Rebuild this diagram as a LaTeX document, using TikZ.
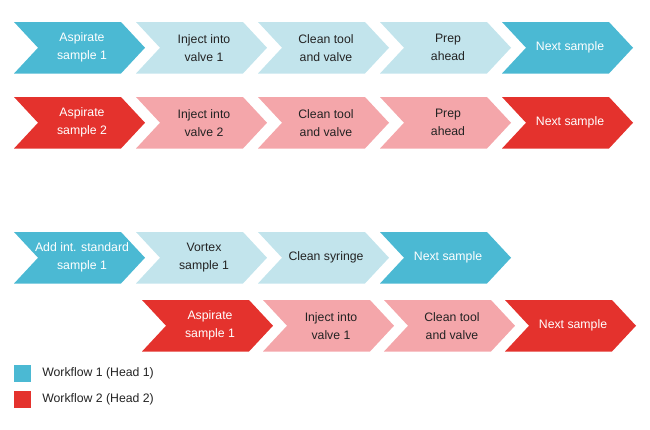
\documentclass[tikz,border=0pt]{standalone}
\usepackage{fontspec}
\setmainfont{Liberation Sans}
\usepackage{tikz}
\usetikzlibrary{positioning}
\definecolor{headblue}{HTML}{4BB9D3}
\definecolor{paleblue}{HTML}{C2E4EC}
\definecolor{headred}{HTML}{E4322D}
\definecolor{palered}{HTML}{F4A6AA}
\definecolor{txtgray}{HTML}{232323}
% chevron: name, left x, top y, fill, text colour, text
\newcommand{\chev}[6]{%
  \fill[#4] (#2,#3) -- ++(107,0) -- ++(24,25.75) -- ++(-24,25.75) -- ++(-107,0) -- ++(24,-25.75) -- cycle;
  \node[steptext,text=#5] (#1) at ({#2+68},{#3+25.75}) {#6};
}

\begin{document}
\begin{tikzpicture}[x=0.75pt,y=-0.75pt,
    steptext/.style={align=center,inner sep=0pt,font=\fontsize{9.2}{13.5}\selectfont},
    keybox/.style={minimum size=12.75pt,inner sep=0pt},
    keytext/.style={right,inner sep=0pt,font=\fontsize{9.2}{11}\selectfont,text=txtgray}]
  \useasboundingbox (0,0) rectangle (650,429);
  % workflow 1, row 1
  \chev{a1}{14}{22}{headblue}{white}{Aspirate\\sample 1}
  \chev{a2}{136}{22}{paleblue}{txtgray}{Inject into\\valve 1}
  \chev{a3}{258}{22}{paleblue}{txtgray}{Clean tool\\and valve}
  \chev{a4}{380}{22}{paleblue}{txtgray}{Prep\\ahead}
  \chev{a5}{502}{22}{headblue}{white}{Next sample}
  % workflow 2, row 1
  \chev{b1}{14}{97}{headred}{white}{Aspirate\\sample 2}
  \chev{b2}{136}{97}{palered}{txtgray}{Inject into\\valve 2}
  \chev{b3}{258}{97}{palered}{txtgray}{Clean tool\\and valve}
  \chev{b4}{380}{97}{palered}{txtgray}{Prep\\ahead}
  \chev{b5}{502}{97}{headred}{white}{Next sample}
  % workflow 1, row 2
  \chev{c1}{14}{232}{headblue}{white}{Add int. standard\\sample 1}
  \chev{c2}{136}{232}{paleblue}{txtgray}{Vortex\\sample 1}
  \chev{c3}{258}{232}{paleblue}{txtgray}{Clean syringe}
  \chev{c4}{380}{232}{headblue}{white}{Next sample}
  % workflow 2, row 2
  \chev{d1}{142}{300}{headred}{white}{Aspirate\\sample 1}
  \chev{d2}{263}{300}{palered}{txtgray}{Inject into\\valve 1}
  \chev{d3}{384}{300}{palered}{txtgray}{Clean tool\\and valve}
  \chev{d4}{505}{300}{headred}{white}{Next sample}
  % legend
  \node[keybox,fill=headblue] (k1) at (22.5,373.5) {};
  \node[keybox,fill=headred] (k2) at (22.5,399) {};
  \node[keytext] (l1) at (42,373.5) {Workflow 1 (Head 1)};
  \node[keytext] (l2) at (42,399) {Workflow 2 (Head 2)};
\end{tikzpicture}
\end{document}
